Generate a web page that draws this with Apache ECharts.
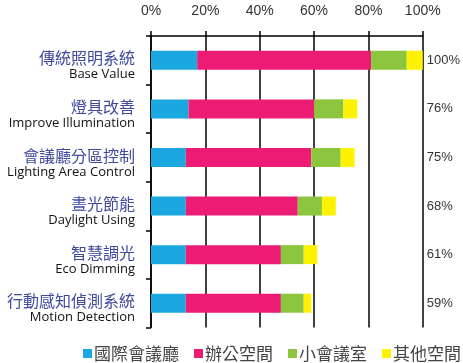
<!DOCTYPE html>
<html>
<head>
<meta charset="utf-8">
<style>html,body{margin:0;padding:0;background:#fff;}#main{width:463px;height:363px;}</style>
<script src="https://cdn.jsdelivr.net/npm/echarts@6/dist/echarts.min.js"></script>
</head>
<body>
<div id="main"></div>
<script>
var catZh = ['傳統照明系統', '燈具改善', '會議廳分區控制', '晝光節能', '智慧調光', '行動感知偵測系統'];
var catEn = ['Base Value', 'Improve Illumination', 'Lighting Area Control', 'Daylight Using', 'Eco Dimming', 'Motion Detection'];
var totals = ['100%', '76%', '75%', '68%', '61%', '59%'];
var seriesNames = ['國際會議廳', '辦公空間', '小會議室', '其他空間'];
var intl = [17.0, 13.8, 12.8, 12.8, 12.8, 12.8];
var office = [64.0, 46.2, 46.2, 41.2, 35.0, 35.0];
var smallRoom = [13.1, 10.8, 10.8, 8.9, 8.4, 8.4];
var other = [5.9, 5.1, 5.1, 5.1, 5.0, 2.8];
var xTicks = [0, 20, 40, 60, 80, 100];
var colors = ['#1ba8e0', '#ec1c74', '#8cc63e', '#fff200'];

var cats = catZh.map(function (z, i) { return z + '\n' + catEn[i]; });
var narrow = '"Liberation Sans", Arial, sans-serif';

var chart = echarts.init(document.getElementById('main'));
var dataSets = [intl, office, smallRoom, other];
chart.setOption({
  animation: false,
  color: colors,
  grid: { left: 151, right: 34, top: 36, bottom: 35.5, containLabel: false },
  legend: {
    data: seriesNames,
    left: 83, top: 345, width: 440,
    padding: 0,
    itemWidth: 9, itemHeight: 9, itemGap: 15,
    icon: 'rect',
    textStyle: { fontSize: 17, color: '#444', fontFamily: '"Noto Sans CJK TC", sans-serif', padding: [0, 0, 0, -3] }
  },
  xAxis: {
    type: 'value', position: 'top',
    min: xTicks[0], max: xTicks[xTicks.length - 1], interval: 20,
    axisLine: { show: true, lineStyle: { color: '#000', width: 1.5 } },
    axisTick: { show: true, length: 5, lineStyle: { color: '#000', width: 1.5 } },
    splitLine: { show: true, lineStyle: { color: '#000', width: 1.5 } },
    axisLabel: { formatter: '{value}%', margin: 18, fontSize: 14, color: '#333', fontFamily: narrow }
  },
  yAxis: [{
    type: 'category', data: cats, inverse: true,
    axisLine: { show: true, lineStyle: { color: '#000', width: 1.5 } },
    axisTick: { show: true, length: 5, lineStyle: { color: '#000', width: 1.5 } },
    axisLabel: {
      margin: 16,
      formatter: function (v) { var p = v.split('\n'); return '{zh|' + p[0] + '}\n{en|' + p[1] + '}'; },
      padding: [12, 0, 0, 0],
      rich: {
        zh: { fontSize: 16, color: '#3f4a9c', fontFamily: '"Noto Sans CJK TC", sans-serif', lineHeight: 17, align: 'right' },
        en: { fontSize: 13, color: '#111', fontFamily: '"Open Sans", "Noto Sans", sans-serif', lineHeight: 16, align: 'right' }
      }
    }
  }, {
    type: 'category', data: totals, inverse: true, position: 'right',
    axisLine: { show: false }, axisTick: { show: false },
    axisLabel: { margin: 4, fontSize: 13, color: '#333', fontFamily: narrow, padding: [7, 0, 0, 0] }
  }],
  series: seriesNames.map(function (n, i) {
    return { name: n, type: 'bar', stack: 'total', barWidth: 19, data: dataSets[i], yAxisIndex: 0 };
  })
});
</script>
</body>
</html>
